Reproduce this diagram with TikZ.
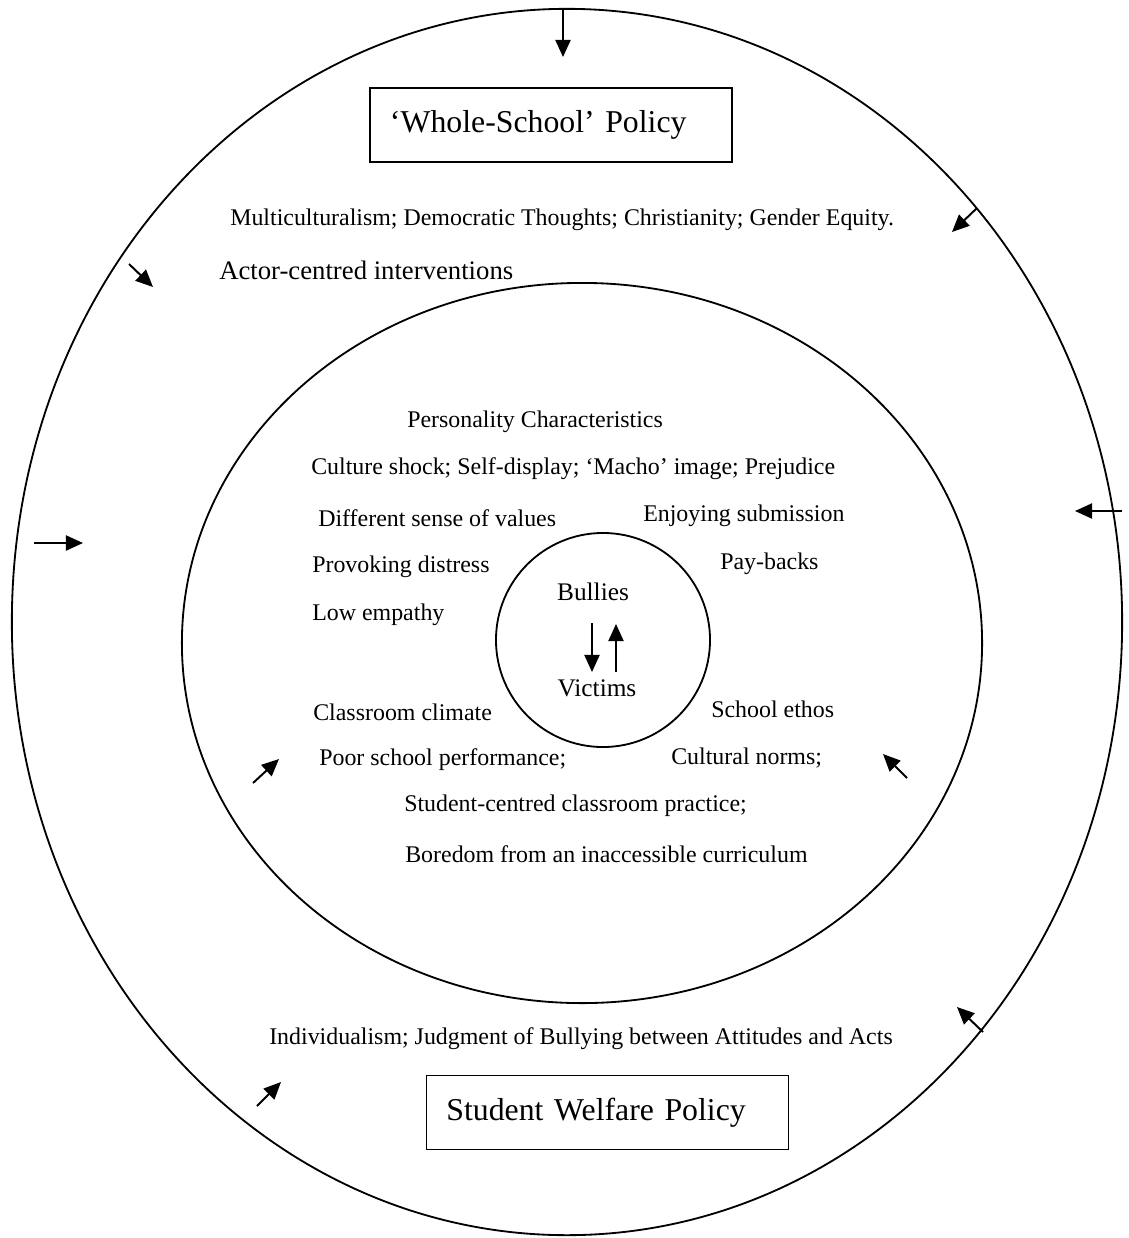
\documentclass[tikz,border=0pt]{standalone}
\usepackage{fontspec}
\setmainfont{Liberation Serif}
\usetikzlibrary{arrows.meta,shapes.geometric}

\begin{document}
\begin{tikzpicture}[x=0.025cm,y=-0.025cm,
  font=\fontsize{17}{20}\selectfont,
  ring/.style={ellipse,draw,line width=1.3pt,inner sep=0pt},
  core/.style={circle,draw,line width=1.3pt,minimum size=5.35cm,inner sep=0pt},
  policy/.style={rectangle,draw,line width=1.2pt,minimum height=1.85cm,inner xsep=0.5cm,text width=8.05cm,align=left,font=\fontsize{22.6}{26}\selectfont},
  lbl/.style={anchor=west,inner sep=0pt},
  actor/.style={font=\fontsize{18}{22}\selectfont},
  arr/.style={-{Triangle[length=0.43cm,width=0.38cm]},line width=1.4pt}
]
\useasboundingbox (0,0) rectangle (1129,1238);

% the three rings
\node[ring,minimum width=27.75cm,minimum height=30.65cm] (outer) at (567,622) {};
\node[ring,minimum width=20cm,minimum height=18cm] (middle) at (582,643) {};
\node[core] (core) at (603,640) {};

% policies
\node[policy] (ws) at (551,125) {`Whole-School' Policy};
\node[policy] (sw) at (607.5,1112.5) {Student Welfare Policy};

% outer ring texts
\node[lbl] (values) at (230,220) {Multiculturalism; Democratic Thoughts; Christianity; Gender Equity.};
\node[lbl,font=\fontsize{19}{22}\selectfont] (actorint) at (219,270) {Actor-centred interventions};
\node[lbl] (indiv) at (269,1039) {Individualism; Judgment of Bullying between Attitudes and Acts};

% middle ring texts
\node[lbl] (person) at (407,422) {Personality Characteristics};
\node[lbl] (shock) at (311,469) {Culture shock; Self-display; `Macho' image; Prejudice};
\node[lbl] (sense) at (318,518) {Different sense of values};
\node[lbl] (enjoy) at (643,516) {Enjoying submission};
\node[lbl] (distress) at (312,567) {Provoking distress};
\node[lbl] (payback) at (720,564) {Pay-backs};
\node[lbl] (empathy) at (312,615) {Low empathy};
\node[lbl] (climate) at (313,712) {Classroom climate};
\node[lbl] (ethos) at (711,709) {School ethos};
\node[lbl] (perform) at (319,760) {Poor school performance;};
\node[lbl] (norms) at (671,758) {Cultural norms;};
\node[lbl] (practice) at (404,806) {Student-centred classroom practice;};
\node[lbl] (boredom) at (405,854) {Boredom from an inaccessible curriculum};

% core
\node[actor] (bully) at (593,592) {Bullies};
\node[actor] (victim) at (597,688) {Victims};
\coordinate (down-s) at (592,623); \coordinate (down-e) at (592,672);
\coordinate (up-s) at (616,672);   \coordinate (up-e) at (616,624);

% arrows pressing inwards
\coordinate (top-s) at (563,9);    \coordinate (top-e) at (563,57);
\coordinate (ne-s) at (977,208);   \coordinate (ne-e) at (952,232);
\coordinate (nw-s) at (129,264);   \coordinate (nw-e) at (153,287);
\coordinate (e-s) at (1122,511);   \coordinate (e-e) at (1075,511);
\coordinate (w-s) at (34,543);     \coordinate (w-e) at (83,543);
\coordinate (swi-s) at (253,783);  \coordinate (swi-e) at (279,759);
\coordinate (sei-s) at (907,778);  \coordinate (sei-e) at (883,754);
\coordinate (se-s) at (983,1032);  \coordinate (se-e) at (957,1007);
\coordinate (sw-s) at (257,1106);  \coordinate (sw-e) at (281,1082);

\foreach \p in {down,up,top,ne,nw,e,w,swi,sei,se,sw}
  \draw[arr] (\p-s) -- (\p-e);
\end{tikzpicture}
\end{document}
